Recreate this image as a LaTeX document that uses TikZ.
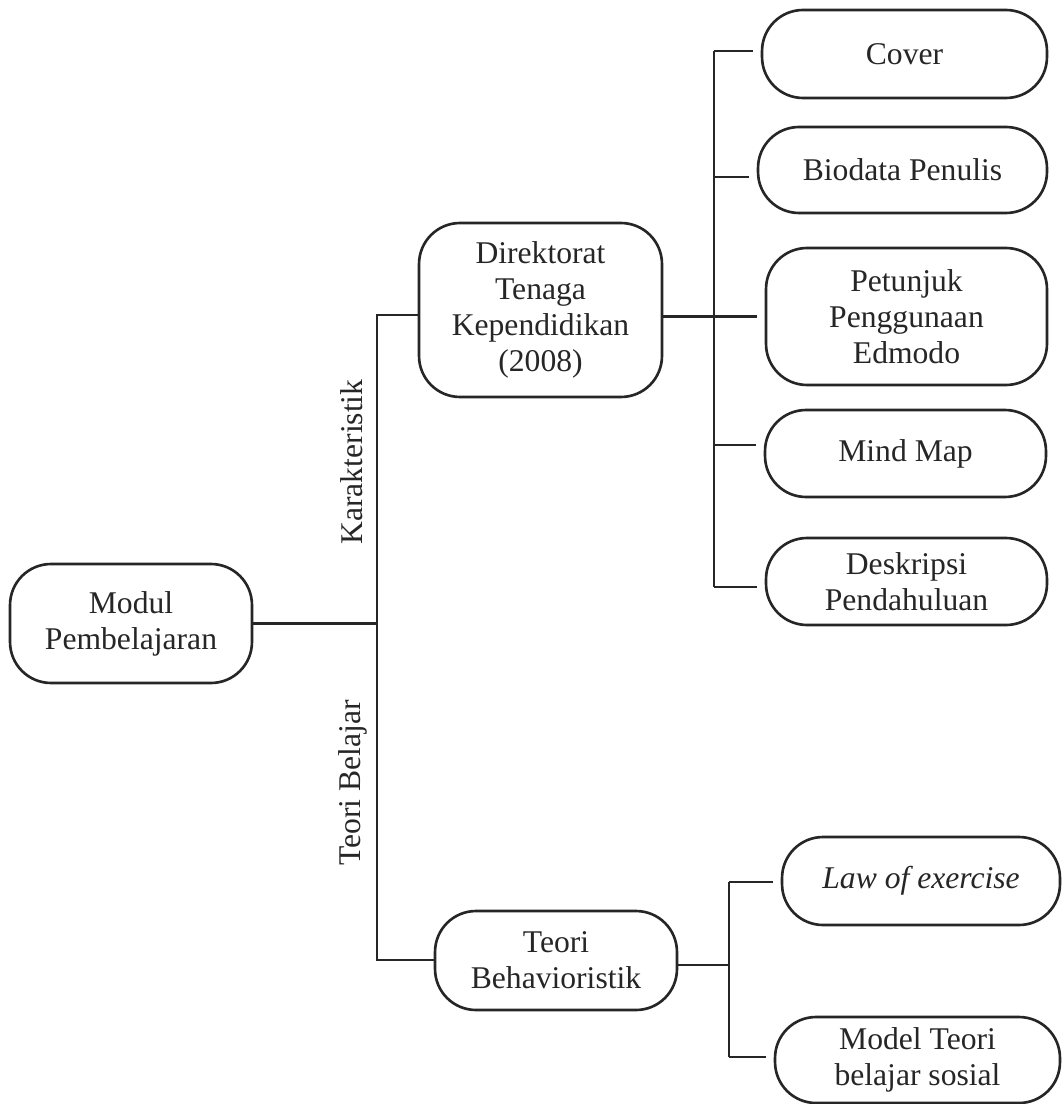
\documentclass[tikz,border=0pt]{standalone}
\usepackage{fontspec}
\setmainfont{Liberation Serif}
\begin{document}
\begin{tikzpicture}[x=0.02cm, y=-0.02cm, line width=1.5pt, draw=black!85,
  box/.style={draw=black!85, rounded corners=0.82cm, align=center, inner sep=2pt, text=black!85, font=\fontsize{18}{20.5}\selectfont},
  lbl/.style={rotate=90, text=black!85, font=\fontsize{18}{20.5}\selectfont},
  branch/.style={shorten >=0.15cm}]
\useasboundingbox (0,0) rectangle (1062,1104);
\node[box, minimum width=4.84cm, minimum height=2.38cm] (modul) at (131,623.5) {Modul\\Pembelajaran};
\node[box, minimum width=4.86cm, minimum height=3.48cm] (dir) at (540.5,310) {Direktorat\\Tenaga\\Kependidikan\\(2008)};
\node[box, minimum width=4.84cm, minimum height=1.98cm] (beh) at (556,960.5) {Teori\\Behavioristik};
\node[box, minimum width=5.7cm, minimum height=1.76cm] (cover) at (904.5,54) {Cover};
\node[box, minimum width=5.78cm, minimum height=1.72cm] (bio) at (902.5,170) {Biodata Penulis};
\node[box, minimum width=5.62cm, minimum height=2.74cm] (pet) at (906.5,316.5) {Petunjuk\\Penggunaan\\Edmodo};
\node[box, minimum width=5.62cm, minimum height=1.74cm] (mind) at (905.5,453.5) {Mind Map};
\node[box, minimum width=5.62cm, minimum height=1.74cm] (desk) at (906.5,581.5) {Deskripsi\\Pendahuluan};
\node[box, minimum width=5.56cm, minimum height=1.76cm] (law) at (921,881) {\textit{Law of exercise}};
\node[box, minimum width=5.7cm, minimum height=1.72cm] (model) at (917.5,1060) {Model Teori\\belajar sosial};
\node[lbl] (kar) at (352,462) {Karakteristik};
\node[lbl] (teori) at (353,783) {Teori Belajar};

\coordinate (mtop) at (377,315);
\coordinate (mbot) at (377,960);
\draw (modul.east) -- (modul.east -| mtop);
\draw (dir.west |- mtop) -- (mtop) -- (mbot) -- (beh.west |- mbot);

\coordinate (dtop) at (714,51);
\coordinate (dbio) at (714,177);
\coordinate (dmind) at (714,445);
\coordinate (dbot) at (714,587);
\draw (dtop) -- (dbot);
\draw[branch] (dir.east |- pet.west) -- (pet.west);
\draw[branch] (dtop) -- (cover.west |- dtop);
\draw[branch] (dbio) -- (bio.west |- dbio);
\draw[branch] (dmind) -- (mind.west |- dmind);
\draw[branch] (dbot) -- (desk.west |- dbot);

\coordinate (btop) at (729,882);
\coordinate (bmid) at (729,965);
\coordinate (bbot) at (729,1057);
\draw (beh.east |- bmid) -- (bmid);
\draw (btop) -- (bbot);
\draw[branch] (btop) -- (law.west |- btop);
\draw[branch] (bbot) -- (model.west |- bbot);
\end{tikzpicture}
\end{document}
